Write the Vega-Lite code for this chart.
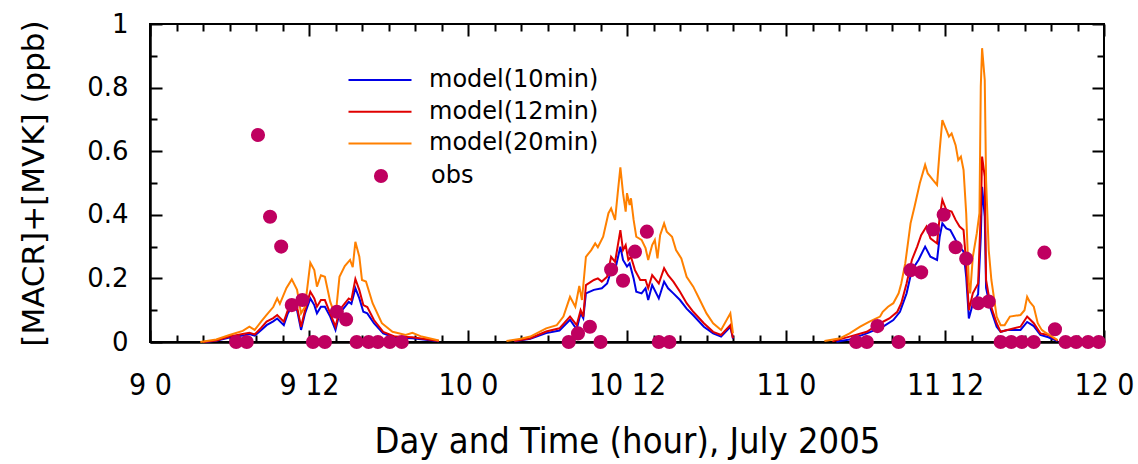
{
  "$schema": "https://vega.github.io/schema/vega-lite/v6.json",
  "width": 954,
  "height": 318,
  "autosize": {"type": "none"},
  "padding": {"left": 150, "top": 24, "right": 34, "bottom": 122},
  "background": "white",
  "config": {
    "view": {"stroke": "black", "strokeWidth": 2},
    "axis": {"domainColor": "black", "domainWidth": 2, "labelColor": "black", "titleColor": "black", "gridColor": "black", "gridWidth": 2, "gridOpacity": 1}
  },
  "datasets": {
    "model": [
      {"series":"model(10min)","seg":1,"t":4.2,"v":0},{"series":"model(10min)","seg":1,"t":5.0,"v":0.004},{"series":"model(10min)","seg":1,"t":6.0,"v":0.014},{"series":"model(10min)","seg":1,"t":7.0,"v":0.02},{"series":"model(10min)","seg":1,"t":7.5,"v":0.025},{"series":"model(10min)","seg":1,"t":7.9,"v":0.02},{"series":"model(10min)","seg":1,"t":8.4,"v":0.038},{"series":"model(10min)","seg":1,"t":8.8,"v":0.053},{"series":"model(10min)","seg":1,"t":9.3,"v":0.065},{"series":"model(10min)","seg":1,"t":9.6,"v":0.074},{"series":"model(10min)","seg":1,"t":10.1,"v":0.053},{"series":"model(10min)","seg":1,"t":10.4,"v":0.09},{"series":"model(10min)","seg":1,"t":10.7,"v":0.11},{"series":"model(10min)","seg":1,"t":11.1,"v":0.1},{"series":"model(10min)","seg":1,"t":11.4,"v":0.038},{"series":"model(10min)","seg":1,"t":11.7,"v":0.09},{"series":"model(10min)","seg":1,"t":12.1,"v":0.137},{"series":"model(10min)","seg":1,"t":12.4,"v":0.116},{"series":"model(10min)","seg":1,"t":12.6,"v":0.09},{"series":"model(10min)","seg":1,"t":12.9,"v":0.111},{"series":"model(10min)","seg":1,"t":13.2,"v":0.111},{"series":"model(10min)","seg":1,"t":13.6,"v":0.08},{"series":"model(10min)","seg":1,"t":14.0,"v":0.038},{"series":"model(10min)","seg":1,"t":14.3,"v":0.09},{"series":"model(10min)","seg":1,"t":14.6,"v":0.105},{"series":"model(10min)","seg":1,"t":15.0,"v":0.126},{"series":"model(10min)","seg":1,"t":15.2,"v":0.12},{"series":"model(10min)","seg":1,"t":15.5,"v":0.169},{"series":"model(10min)","seg":1,"t":15.8,"v":0.137},{"series":"model(10min)","seg":1,"t":16.1,"v":0.095},{"series":"model(10min)","seg":1,"t":16.4,"v":0.09},{"series":"model(10min)","seg":1,"t":16.9,"v":0.059},{"series":"model(10min)","seg":1,"t":17.6,"v":0.027},{"series":"model(10min)","seg":1,"t":18.5,"v":0.013},{"series":"model(10min)","seg":1,"t":19.8,"v":0.012},{"series":"model(10min)","seg":1,"t":21.8,"v":0.002},
      {"series":"model(10min)","seg":2,"t":27.5,"v":0.002},{"series":"model(10min)","seg":2,"t":28.7,"v":0.01},{"series":"model(10min)","seg":2,"t":29.9,"v":0.028},{"series":"model(10min)","seg":2,"t":30.9,"v":0.036},{"series":"model(10min)","seg":2,"t":31.7,"v":0.07},{"series":"model(10min)","seg":2,"t":32.2,"v":0.04},{"series":"model(10min)","seg":2,"t":32.5,"v":0.09},{"series":"model(10min)","seg":2,"t":32.7,"v":0.075},{"series":"model(10min)","seg":2,"t":32.9,"v":0.153},{"series":"model(10min)","seg":2,"t":33.5,"v":0.164},{"series":"model(10min)","seg":2,"t":34.1,"v":0.169},{"series":"model(10min)","seg":2,"t":34.5,"v":0.184},{"series":"model(10min)","seg":2,"t":34.9,"v":0.237},{"series":"model(10min)","seg":2,"t":35.1,"v":0.226},{"series":"model(10min)","seg":2,"t":35.5,"v":0.3},{"series":"model(10min)","seg":2,"t":35.7,"v":0.258},{"series":"model(10min)","seg":2,"t":36.0,"v":0.237},{"series":"model(10min)","seg":2,"t":36.2,"v":0.247},{"series":"model(10min)","seg":2,"t":36.5,"v":0.2},{"series":"model(10min)","seg":2,"t":36.7,"v":0.158},{"series":"model(10min)","seg":2,"t":37.1,"v":0.153},{"series":"model(10min)","seg":2,"t":37.4,"v":0.169},{"series":"model(10min)","seg":2,"t":37.6,"v":0.132},{"series":"model(10min)","seg":2,"t":37.9,"v":0.179},{"series":"model(10min)","seg":2,"t":38.4,"v":0.137},{"series":"model(10min)","seg":2,"t":38.8,"v":0.19},{"series":"model(10min)","seg":2,"t":39.1,"v":0.169},{"series":"model(10min)","seg":2,"t":39.5,"v":0.153},{"series":"model(10min)","seg":2,"t":40.0,"v":0.132},{"series":"model(10min)","seg":2,"t":40.5,"v":0.105},{"series":"model(10min)","seg":2,"t":41.0,"v":0.084},{"series":"model(10min)","seg":2,"t":41.8,"v":0.048},{"series":"model(10min)","seg":2,"t":42.5,"v":0.027},{"series":"model(10min)","seg":2,"t":43.1,"v":0.017},{"series":"model(10min)","seg":2,"t":43.8,"v":0.048},{"series":"model(10min)","seg":2,"t":44.0,"v":0.01},
      {"series":"model(10min)","seg":3,"t":51.8,"v":0.001},{"series":"model(10min)","seg":3,"t":52.8,"v":0.008},{"series":"model(10min)","seg":3,"t":54.1,"v":0.027},{"series":"model(10min)","seg":3,"t":55.3,"v":0.048},{"series":"model(10min)","seg":3,"t":56.1,"v":0.069},{"series":"model(10min)","seg":3,"t":56.6,"v":0.095},{"series":"model(10min)","seg":3,"t":57.1,"v":0.153},{"series":"model(10min)","seg":3,"t":57.5,"v":0.226},{"series":"model(10min)","seg":3,"t":58.0,"v":0.258},{"series":"model(10min)","seg":3,"t":58.5,"v":0.3},{"series":"model(10min)","seg":3,"t":58.9,"v":0.268},{"series":"model(10min)","seg":3,"t":59.4,"v":0.258},{"series":"model(10min)","seg":3,"t":59.6,"v":0.331},{"series":"model(10min)","seg":3,"t":59.8,"v":0.373},{"series":"model(10min)","seg":3,"t":60.1,"v":0.357},{"series":"model(10min)","seg":3,"t":60.4,"v":0.352},{"series":"model(10min)","seg":3,"t":60.8,"v":0.321},{"series":"model(10min)","seg":3,"t":61.1,"v":0.3},{"series":"model(10min)","seg":3,"t":61.4,"v":0.284},{"series":"model(10min)","seg":3,"t":61.6,"v":0.205},{"series":"model(10min)","seg":3,"t":61.8,"v":0.074},{"series":"model(10min)","seg":3,"t":62.1,"v":0.12},{"series":"model(10min)","seg":3,"t":62.5,"v":0.15},{"series":"model(10min)","seg":3,"t":62.7,"v":0.33},{"series":"model(10min)","seg":3,"t":62.8,"v":0.488},{"series":"model(10min)","seg":3,"t":63.0,"v":0.394},{"series":"model(10min)","seg":3,"t":63.1,"v":0.17},{"series":"model(10min)","seg":3,"t":63.4,"v":0.11},{"series":"model(10min)","seg":3,"t":63.9,"v":0.048},{"series":"model(10min)","seg":3,"t":64.2,"v":0.032},{"series":"model(10min)","seg":3,"t":64.7,"v":0.038},{"series":"model(10min)","seg":3,"t":65.7,"v":0.038},{"series":"model(10min)","seg":3,"t":66.2,"v":0.063},{"series":"model(10min)","seg":3,"t":66.7,"v":0.05},{"series":"model(10min)","seg":3,"t":67.2,"v":0.022},{"series":"model(10min)","seg":3,"t":67.8,"v":0.015},{"series":"model(10min)","seg":3,"t":68.5,"v":0.003},

      {"series":"model(12min)","seg":1,"t":4.0,"v":0},{"series":"model(12min)","seg":1,"t":5.0,"v":0.005},{"series":"model(12min)","seg":1,"t":6.0,"v":0.017},{"series":"model(12min)","seg":1,"t":7.0,"v":0.025},{"series":"model(12min)","seg":1,"t":7.5,"v":0.029},{"series":"model(12min)","seg":1,"t":7.9,"v":0.024},{"series":"model(12min)","seg":1,"t":8.4,"v":0.045},{"series":"model(12min)","seg":1,"t":8.8,"v":0.064},{"series":"model(12min)","seg":1,"t":9.3,"v":0.075},{"series":"model(12min)","seg":1,"t":9.6,"v":0.085},{"series":"model(12min)","seg":1,"t":10.1,"v":0.064},{"series":"model(12min)","seg":1,"t":10.4,"v":0.1},{"series":"model(12min)","seg":1,"t":10.7,"v":0.122},{"series":"model(12min)","seg":1,"t":11.1,"v":0.11},{"series":"model(12min)","seg":1,"t":11.4,"v":0.048},{"series":"model(12min)","seg":1,"t":11.7,"v":0.1},{"series":"model(12min)","seg":1,"t":12.1,"v":0.158},{"series":"model(12min)","seg":1,"t":12.4,"v":0.137},{"series":"model(12min)","seg":1,"t":12.6,"v":0.111},{"series":"model(12min)","seg":1,"t":12.9,"v":0.132},{"series":"model(12min)","seg":1,"t":13.2,"v":0.132},{"series":"model(12min)","seg":1,"t":13.6,"v":0.09},{"series":"model(12min)","seg":1,"t":14.0,"v":0.048},{"series":"model(12min)","seg":1,"t":14.3,"v":0.1},{"series":"model(12min)","seg":1,"t":14.6,"v":0.116},{"series":"model(12min)","seg":1,"t":15.0,"v":0.137},{"series":"model(12min)","seg":1,"t":15.2,"v":0.132},{"series":"model(12min)","seg":1,"t":15.5,"v":0.198},{"series":"model(12min)","seg":1,"t":15.8,"v":0.163},{"series":"model(12min)","seg":1,"t":16.1,"v":0.116},{"series":"model(12min)","seg":1,"t":16.4,"v":0.11},{"series":"model(12min)","seg":1,"t":16.9,"v":0.069},{"series":"model(12min)","seg":1,"t":17.6,"v":0.032},{"series":"model(12min)","seg":1,"t":18.5,"v":0.017},{"series":"model(12min)","seg":1,"t":19.8,"v":0.015},{"series":"model(12min)","seg":1,"t":21.8,"v":0.003},
      {"series":"model(12min)","seg":2,"t":27.5,"v":0.003},{"series":"model(12min)","seg":2,"t":28.7,"v":0.012},{"series":"model(12min)","seg":2,"t":29.9,"v":0.033},{"series":"model(12min)","seg":2,"t":30.9,"v":0.043},{"series":"model(12min)","seg":2,"t":31.7,"v":0.08},{"series":"model(12min)","seg":2,"t":32.2,"v":0.053},{"series":"model(12min)","seg":2,"t":32.5,"v":0.1},{"series":"model(12min)","seg":2,"t":32.7,"v":0.08},{"series":"model(12min)","seg":2,"t":32.9,"v":0.179},{"series":"model(12min)","seg":2,"t":33.5,"v":0.195},{"series":"model(12min)","seg":2,"t":33.8,"v":0.2},{"series":"model(12min)","seg":2,"t":34.1,"v":0.19},{"series":"model(12min)","seg":2,"t":34.5,"v":0.205},{"series":"model(12min)","seg":2,"t":34.8,"v":0.268},{"series":"model(12min)","seg":2,"t":35.1,"v":0.252},{"series":"model(12min)","seg":2,"t":35.5,"v":0.352},{"series":"model(12min)","seg":2,"t":35.7,"v":0.289},{"series":"model(12min)","seg":2,"t":35.9,"v":0.305},{"series":"model(12min)","seg":2,"t":36.1,"v":0.258},{"series":"model(12min)","seg":2,"t":36.3,"v":0.268},{"series":"model(12min)","seg":2,"t":36.6,"v":0.226},{"series":"model(12min)","seg":2,"t":37.0,"v":0.195},{"series":"model(12min)","seg":2,"t":37.4,"v":0.195},{"series":"model(12min)","seg":2,"t":37.6,"v":0.169},{"series":"model(12min)","seg":2,"t":37.9,"v":0.21},{"series":"model(12min)","seg":2,"t":38.4,"v":0.184},{"series":"model(12min)","seg":2,"t":38.8,"v":0.232},{"series":"model(12min)","seg":2,"t":39.1,"v":0.21},{"series":"model(12min)","seg":2,"t":39.5,"v":0.19},{"series":"model(12min)","seg":2,"t":40.0,"v":0.158},{"series":"model(12min)","seg":2,"t":40.5,"v":0.122},{"series":"model(12min)","seg":2,"t":41.0,"v":0.095},{"series":"model(12min)","seg":2,"t":41.8,"v":0.059},{"series":"model(12min)","seg":2,"t":42.5,"v":0.032},{"series":"model(12min)","seg":2,"t":43.1,"v":0.022},{"series":"model(12min)","seg":2,"t":43.8,"v":0.053},{"series":"model(12min)","seg":2,"t":44.0,"v":0.012},
      {"series":"model(12min)","seg":3,"t":51.5,"v":0.002},{"series":"model(12min)","seg":3,"t":52.8,"v":0.017},{"series":"model(12min)","seg":3,"t":54.1,"v":0.032},{"series":"model(12min)","seg":3,"t":55.1,"v":0.059},{"series":"model(12min)","seg":3,"t":55.8,"v":0.074},{"series":"model(12min)","seg":3,"t":56.4,"v":0.095},{"series":"model(12min)","seg":3,"t":56.7,"v":0.122},{"series":"model(12min)","seg":3,"t":57.1,"v":0.184},{"series":"model(12min)","seg":3,"t":57.5,"v":0.258},{"series":"model(12min)","seg":3,"t":57.9,"v":0.3},{"series":"model(12min)","seg":3,"t":58.2,"v":0.336},{"series":"model(12min)","seg":3,"t":58.6,"v":0.363},{"series":"model(12min)","seg":3,"t":58.9,"v":0.326},{"series":"model(12min)","seg":3,"t":59.4,"v":0.31},{"series":"model(12min)","seg":3,"t":59.6,"v":0.394},{"series":"model(12min)","seg":3,"t":59.8,"v":0.447},{"series":"model(12min)","seg":3,"t":60.1,"v":0.415},{"series":"model(12min)","seg":3,"t":60.5,"v":0.41},{"series":"model(12min)","seg":3,"t":60.8,"v":0.384},{"series":"model(12min)","seg":3,"t":61.1,"v":0.363},{"series":"model(12min)","seg":3,"t":61.4,"v":0.352},{"series":"model(12min)","seg":3,"t":61.6,"v":0.247},{"series":"model(12min)","seg":3,"t":61.8,"v":0.1},{"series":"model(12min)","seg":3,"t":62.1,"v":0.153},{"series":"model(12min)","seg":3,"t":62.5,"v":0.184},{"series":"model(12min)","seg":3,"t":62.7,"v":0.405},{"series":"model(12min)","seg":3,"t":62.8,"v":0.583},{"series":"model(12min)","seg":3,"t":63.0,"v":0.52},{"series":"model(12min)","seg":3,"t":63.1,"v":0.195},{"series":"model(12min)","seg":3,"t":63.4,"v":0.122},{"series":"model(12min)","seg":3,"t":63.9,"v":0.059},{"series":"model(12min)","seg":3,"t":64.2,"v":0.032},{"series":"model(12min)","seg":3,"t":64.7,"v":0.038},{"series":"model(12min)","seg":3,"t":65.7,"v":0.048},{"series":"model(12min)","seg":3,"t":66.2,"v":0.08},{"series":"model(12min)","seg":3,"t":66.7,"v":0.059},{"series":"model(12min)","seg":3,"t":67.2,"v":0.027},{"series":"model(12min)","seg":3,"t":67.8,"v":0.022},{"series":"model(12min)","seg":3,"t":68.5,"v":0.004},

      {"series":"model(20min)","seg":1,"t":3.8,"v":0},{"series":"model(20min)","seg":1,"t":5.0,"v":0.008},{"series":"model(20min)","seg":1,"t":6.0,"v":0.022},{"series":"model(20min)","seg":1,"t":7.0,"v":0.035},{"series":"model(20min)","seg":1,"t":7.5,"v":0.048},{"series":"model(20min)","seg":1,"t":7.9,"v":0.038},{"series":"model(20min)","seg":1,"t":8.4,"v":0.065},{"series":"model(20min)","seg":1,"t":8.8,"v":0.085},{"series":"model(20min)","seg":1,"t":9.3,"v":0.11},{"series":"model(20min)","seg":1,"t":9.6,"v":0.137},{"series":"model(20min)","seg":1,"t":9.8,"v":0.12},{"series":"model(20min)","seg":1,"t":10.3,"v":0.17},{"series":"model(20min)","seg":1,"t":10.7,"v":0.197},{"series":"model(20min)","seg":1,"t":11.1,"v":0.164},{"series":"model(20min)","seg":1,"t":11.4,"v":0.09},{"series":"model(20min)","seg":1,"t":11.7,"v":0.111},{"series":"model(20min)","seg":1,"t":12.1,"v":0.249},{"series":"model(20min)","seg":1,"t":12.4,"v":0.226},{"series":"model(20min)","seg":1,"t":12.6,"v":0.174},{"series":"model(20min)","seg":1,"t":12.9,"v":0.21},{"series":"model(20min)","seg":1,"t":13.2,"v":0.205},{"series":"model(20min)","seg":1,"t":13.6,"v":0.127},{"series":"model(20min)","seg":1,"t":14.0,"v":0.08},{"series":"model(20min)","seg":1,"t":14.3,"v":0.205},{"series":"model(20min)","seg":1,"t":14.7,"v":0.239},{"series":"model(20min)","seg":1,"t":15.1,"v":0.258},{"series":"model(20min)","seg":1,"t":15.3,"v":0.235},{"series":"model(20min)","seg":1,"t":15.5,"v":0.315},{"series":"model(20min)","seg":1,"t":15.8,"v":0.268},{"series":"model(20min)","seg":1,"t":16.0,"v":0.195},{"series":"model(20min)","seg":1,"t":16.3,"v":0.19},{"series":"model(20min)","seg":1,"t":16.8,"v":0.122},{"series":"model(20min)","seg":1,"t":17.5,"v":0.059},{"series":"model(20min)","seg":1,"t":18.3,"v":0.032},{"series":"model(20min)","seg":1,"t":19.3,"v":0.022},{"series":"model(20min)","seg":1,"t":19.8,"v":0.029},{"series":"model(20min)","seg":1,"t":20.5,"v":0.017},{"series":"model(20min)","seg":1,"t":21.8,"v":0.005},
      {"series":"model(20min)","seg":2,"t":26.9,"v":0.003},{"series":"model(20min)","seg":2,"t":28.0,"v":0.01},{"series":"model(20min)","seg":2,"t":28.7,"v":0.017},{"series":"model(20min)","seg":2,"t":29.9,"v":0.043},{"series":"model(20min)","seg":2,"t":30.7,"v":0.053},{"series":"model(20min)","seg":2,"t":31.2,"v":0.08},{"series":"model(20min)","seg":2,"t":31.7,"v":0.142},{"series":"model(20min)","seg":2,"t":32.1,"v":0.111},{"series":"model(20min)","seg":2,"t":32.4,"v":0.176},{"series":"model(20min)","seg":2,"t":32.6,"v":0.132},{"series":"model(20min)","seg":2,"t":32.9,"v":0.268},{"series":"model(20min)","seg":2,"t":33.3,"v":0.289},{"series":"model(20min)","seg":2,"t":33.6,"v":0.31},{"series":"model(20min)","seg":2,"t":33.8,"v":0.298},{"series":"model(20min)","seg":2,"t":34.2,"v":0.331},{"series":"model(20min)","seg":2,"t":34.6,"v":0.405},{"series":"model(20min)","seg":2,"t":34.8,"v":0.42},{"series":"model(20min)","seg":2,"t":35.1,"v":0.384},{"series":"model(20min)","seg":2,"t":35.3,"v":0.468},{"series":"model(20min)","seg":2,"t":35.5,"v":0.549},{"series":"model(20min)","seg":2,"t":35.7,"v":0.468},{"series":"model(20min)","seg":2,"t":35.9,"v":0.41},{"series":"model(20min)","seg":2,"t":36.0,"v":0.468},{"series":"model(20min)","seg":2,"t":36.2,"v":0.431},{"series":"model(20min)","seg":2,"t":36.3,"v":0.452},{"series":"model(20min)","seg":2,"t":36.5,"v":0.384},{"series":"model(20min)","seg":2,"t":36.7,"v":0.331},{"series":"model(20min)","seg":2,"t":37.1,"v":0.321},{"series":"model(20min)","seg":2,"t":37.4,"v":0.295},{"series":"model(20min)","seg":2,"t":37.6,"v":0.258},{"series":"model(20min)","seg":2,"t":37.9,"v":0.305},{"series":"model(20min)","seg":2,"t":38.1,"v":0.321},{"series":"model(20min)","seg":2,"t":38.3,"v":0.263},{"series":"model(20min)","seg":2,"t":38.5,"v":0.336},{"series":"model(20min)","seg":2,"t":38.8,"v":0.373},{"series":"model(20min)","seg":2,"t":39.0,"v":0.347},{"series":"model(20min)","seg":2,"t":39.4,"v":0.331},{"series":"model(20min)","seg":2,"t":39.7,"v":0.289},{"series":"model(20min)","seg":2,"t":40.1,"v":0.263},{"series":"model(20min)","seg":2,"t":40.5,"v":0.205},{"series":"model(20min)","seg":2,"t":41.0,"v":0.174},{"series":"model(20min)","seg":2,"t":41.5,"v":0.132},{"series":"model(20min)","seg":2,"t":42.0,"v":0.09},{"series":"model(20min)","seg":2,"t":42.5,"v":0.059},{"series":"model(20min)","seg":2,"t":43.1,"v":0.038},{"series":"model(20min)","seg":2,"t":43.8,"v":0.09},{"series":"model(20min)","seg":2,"t":44.0,"v":0.027},
      {"series":"model(20min)","seg":3,"t":50.9,"v":0.003},{"series":"model(20min)","seg":3,"t":52.1,"v":0.012},{"series":"model(20min)","seg":3,"t":52.8,"v":0.027},{"series":"model(20min)","seg":3,"t":53.6,"v":0.048},{"series":"model(20min)","seg":3,"t":54.3,"v":0.064},{"series":"model(20min)","seg":3,"t":55.1,"v":0.08},{"series":"model(20min)","seg":3,"t":55.3,"v":0.095},{"series":"model(20min)","seg":3,"t":55.7,"v":0.111},{"series":"model(20min)","seg":3,"t":56.1,"v":0.122},{"series":"model(20min)","seg":3,"t":56.5,"v":0.153},{"series":"model(20min)","seg":3,"t":56.7,"v":0.184},{"series":"model(20min)","seg":3,"t":57.0,"v":0.247},{"series":"model(20min)","seg":3,"t":57.4,"v":0.373},{"series":"model(20min)","seg":3,"t":57.7,"v":0.425},{"series":"model(20min)","seg":3,"t":58.1,"v":0.499},{"series":"model(20min)","seg":3,"t":58.5,"v":0.557},{"series":"model(20min)","seg":3,"t":58.7,"v":0.53},{"series":"model(20min)","seg":3,"t":59.1,"v":0.509},{"series":"model(20min)","seg":3,"t":59.4,"v":0.494},{"series":"model(20min)","seg":3,"t":59.6,"v":0.604},{"series":"model(20min)","seg":3,"t":59.8,"v":0.698},{"series":"model(20min)","seg":3,"t":60.1,"v":0.667},{"series":"model(20min)","seg":3,"t":60.3,"v":0.646},{"series":"model(20min)","seg":3,"t":60.5,"v":0.656},{"series":"model(20min)","seg":3,"t":60.8,"v":0.619},{"series":"model(20min)","seg":3,"t":61.0,"v":0.572},{"series":"model(20min)","seg":3,"t":61.2,"v":0.583},{"series":"model(20min)","seg":3,"t":61.4,"v":0.541},{"series":"model(20min)","seg":3,"t":61.6,"v":0.405},{"series":"model(20min)","seg":3,"t":61.8,"v":0.184},{"series":"model(20min)","seg":3,"t":61.9,"v":0.153},{"series":"model(20min)","seg":3,"t":62.1,"v":0.268},{"series":"model(20min)","seg":3,"t":62.4,"v":0.342},{"series":"model(20min)","seg":3,"t":62.6,"v":0.405},{"series":"model(20min)","seg":3,"t":62.7,"v":0.803},{"series":"model(20min)","seg":3,"t":62.8,"v":0.924},{"series":"model(20min)","seg":3,"t":63.0,"v":0.824},{"series":"model(20min)","seg":3,"t":63.1,"v":0.509},{"series":"model(20min)","seg":3,"t":63.3,"v":0.289},{"series":"model(20min)","seg":3,"t":63.5,"v":0.195},{"series":"model(20min)","seg":3,"t":63.9,"v":0.08},{"series":"model(20min)","seg":3,"t":64.2,"v":0.053},{"series":"model(20min)","seg":3,"t":64.5,"v":0.053},{"series":"model(20min)","seg":3,"t":64.9,"v":0.08},{"series":"model(20min)","seg":3,"t":65.7,"v":0.085},{"series":"model(20min)","seg":3,"t":66.0,"v":0.1},{"series":"model(20min)","seg":3,"t":66.2,"v":0.142},{"series":"model(20min)","seg":3,"t":66.4,"v":0.126},{"series":"model(20min)","seg":3,"t":66.7,"v":0.111},{"series":"model(20min)","seg":3,"t":67.0,"v":0.059},{"series":"model(20min)","seg":3,"t":67.3,"v":0.038},{"series":"model(20min)","seg":3,"t":67.5,"v":0.032},{"series":"model(20min)","seg":3,"t":67.9,"v":0.022},{"series":"model(20min)","seg":3,"t":68.5,"v":0.006}
    ],
    "obs": [
      {"series":"obs","t":6.5,"v":0},{"series":"obs","t":7.3,"v":0},{"series":"obs","t":8.15,"v":0.651},{"series":"obs","t":9.06,"v":0.394},{"series":"obs","t":9.9,"v":0.3},{"series":"obs","t":10.7,"v":0.116},{"series":"obs","t":11.5,"v":0.132},{"series":"obs","t":12.3,"v":0},{"series":"obs","t":13.2,"v":0},{"series":"obs","t":14.1,"v":0.095},{"series":"obs","t":14.8,"v":0.071},{"series":"obs","t":15.6,"v":0},{"series":"obs","t":16.5,"v":0},{"series":"obs","t":17.2,"v":0},{"series":"obs","t":18.1,"v":0},{"series":"obs","t":19.0,"v":0},
      {"series":"obs","t":31.6,"v":0},{"series":"obs","t":32.3,"v":0.027},{"series":"obs","t":33.2,"v":0.048},{"series":"obs","t":34.0,"v":0},{"series":"obs","t":34.8,"v":0.228},{"series":"obs","t":35.7,"v":0.193},{"series":"obs","t":36.6,"v":0.284},{"series":"obs","t":37.5,"v":0.347},{"series":"obs","t":38.4,"v":0},{"series":"obs","t":39.2,"v":0},
      {"series":"obs","t":53.3,"v":0},{"series":"obs","t":54.1,"v":0},{"series":"obs","t":54.9,"v":0.05},{"series":"obs","t":56.5,"v":0},{"series":"obs","t":57.4,"v":0.226},{"series":"obs","t":58.2,"v":0.219},{"series":"obs","t":59.1,"v":0.354},{"series":"obs","t":59.9,"v":0.4},{"series":"obs","t":60.8,"v":0.298},{"series":"obs","t":61.6,"v":0.262},{"series":"obs","t":62.5,"v":0.122},{"series":"obs","t":63.3,"v":0.127},{"series":"obs","t":64.2,"v":0},{"series":"obs","t":65.0,"v":0},{"series":"obs","t":65.8,"v":0},{"series":"obs","t":66.7,"v":0},{"series":"obs","t":67.5,"v":0.281},{"series":"obs","t":68.3,"v":0.04},{"series":"obs","t":69.1,"v":0},{"series":"obs","t":69.9,"v":0},{"series":"obs","t":70.8,"v":0},{"series":"obs","t":71.6,"v":0}
    ]
  },
  "layer": [
    {
      "data": {"name": "model"},
      "mark": {"type": "line", "strokeWidth": 2},
      "encoding": {
        "x": {
          "field": "t", "type": "quantitative",
          "scale": {"domain": [0, 72], "nice": false, "zero": false},
          "axis": {
            "orient": "bottom",
            "values": [0,12,24,36,48,60,72],
            "labelExpr": "(9 + floor(datum.value / 24)) + ' ' + (datum.value % 24)",
            "ticks": false,
            "grid": true,
            "gridDash": [12, 294, 12, 0],
            "labelPadding": 28,
            "labelFont": "Liberation Sans Narrow, DejaVu Sans Condensed, sans-serif",
            "labelFontSize": 30,
            "labelOverlap": false,
            "labelFlush": false,
            "title": "Day and Time (hour), July 2005",
            "titleFont": "Liberation Sans Narrow, DejaVu Sans Condensed, sans-serif",
            "titleFontSize": 36,
            "titleFontWeight": "normal",
            "titleBaseline": "alphabetic",
            "titleY": 110
          }
        },
        "y": {
          "field": "v", "type": "quantitative",
          "scale": {"domain": [0, 1], "nice": false, "zero": true},
          "axis": {
            "orient": "left",
            "values": [0,0.2,0.4,0.6,0.8,1],
            "format": "~g",
            "ticks": false,
            "grid": true,
            "gridDash": [12, 930, 12, 0],
            "labelPadding": 22,
            "labelFont": "DejaVu Sans",
            "labelFontSize": 26,
            "labelOverlap": false,
            "labelFlush": false,
            "title": "[MACR]+[MVK] (ppb)",
            "titleFont": "DejaVu Sans",
            "titleFontSize": 31,
            "titleFontWeight": "normal",
            "titleAngle": 270,
            "titleAlign": "center",
            "titleBaseline": "bottom",
            "titleX": -100,
            "titleY": 159
          }
        },
        "stroke": {
          "field": "series", "type": "nominal",
          "scale": {"domain": ["model(10min)", "model(12min)", "model(20min)"], "range": ["#0000e6", "#e00000", "#ff8000"]},
          "legend": {
            "orient": "none", "legendX": 214, "legendY": 40, "title": null, "padding": 0,
            "symbolType": "M-2.1,0H2.1", "symbolSize": 900, "symbolStrokeWidth": 2,
            "labelFont": "DejaVu Sans", "labelFontSize": 24, "labelColor": "black",
            "labelOffset": 33, "rowPadding": 3.7, "labelLimit": 400
          }
        },
        "detail": {"field": "seg", "type": "nominal"}
      }
    },
    {
      "data": {"name": "obs"},
      "mark": {"type": "point", "filled": true, "size": 200, "opacity": 1},
      "encoding": {
        "x": {
          "field": "t", "type": "quantitative",
          "scale": {"domain": [0, 72], "nice": false, "zero": false},
          "axis": {
            "orient": "bottom",
            "values": [2,4,6,8,10,14,16,18,20,22,26,28,30,32,34,38,40,42,44,46,50,52,54,56,58,62,64,66,68,70],
            "ticks": false, "labels": false, "title": null,
            "grid": true, "gridDash": [7, 304, 7, 0]
          }
        },
        "y": {
          "field": "v", "type": "quantitative",
          "scale": {"domain": [0, 1], "nice": false, "zero": true},
          "axis": {
            "orient": "left",
            "values": [0.1,0.3,0.5,0.7,0.9],
            "ticks": false, "labels": false, "title": null,
            "grid": true, "gridDash": [7, 940, 7, 0]
          }
        },
        "fill": {
          "field": "series", "type": "nominal",
          "scale": {"domain": ["obs"], "range": ["#bf0060"]},
          "legend": {
            "orient": "none", "legendX": 219, "legendY": 140, "title": null, "padding": 0,
            "symbolType": "circle", "symbolSize": 200, "symbolStrokeWidth": 0, "symbolOpacity": 1,
            "labelFont": "DejaVu Sans", "labelFontSize": 24, "labelColor": "black",
            "labelOffset": 38, "labelLimit": 400
          }
        }
      }
    }
  ],
  "resolve": {"axis": {"x": "independent", "y": "independent"}}
}
